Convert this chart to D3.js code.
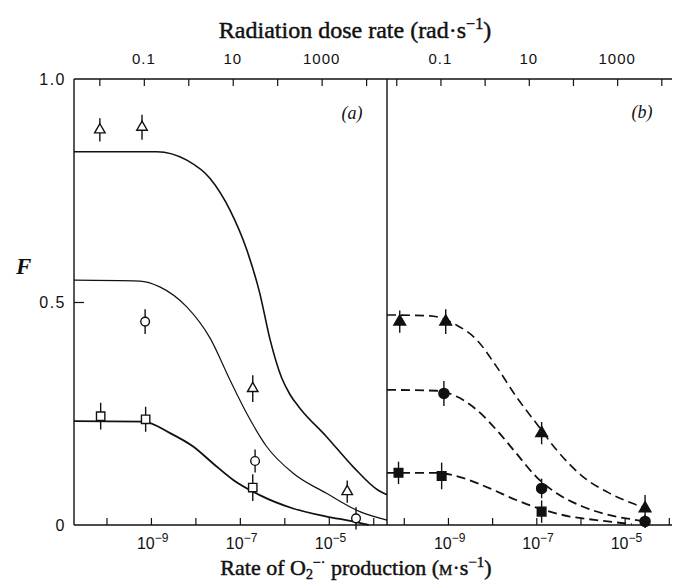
<!DOCTYPE html>
<html><head><meta charset="utf-8">
<script src="https://cdn.jsdelivr.net/npm/d3@7/dist/d3.min.js"></script>
<style>
html,body{margin:0;padding:0;background:#fff;}
svg{display:block;}
.serif{font-family:"Liberation Serif","Times New Roman",serif;}
.tick{font-family:"Liberation Sans",Arial,sans-serif;}
</style></head><body>
<svg id="c" width="675" height="581"></svg>
<script>
// ---------- data ----------
const yTicks = [0, 0.5, 1.0];
const yTickLabels = ["0", "0.5", "1.0"];
const bottomTickValues = [1e-10, 1e-9, 1e-8, 1e-7, 1e-6, 1e-5, 1e-4];
const bottomLabelExps = ["-9", "-7", "-5"];
const bottomLabelValues = [1e-9, 1e-7, 1e-5];
const topTickValues = [0.01, 0.1, 1, 10, 100, 1000, 10000];
const topLabelValues = [0.1, 10, 1000];
const topLabels = ["0.1", "10", "1000"];

// panel (a) fitted curves: [rate M/s, F]
const curveA1 = [[1.86e-11,0.837],[1.35e-9,0.837],[6.4e-9,0.818],[2.14e-8,0.777],[6.0e-8,0.706],[1.43e-7,0.617],[2.8e-7,0.520],[4.8e-7,0.415],[8.7e-7,0.330],[1.35e-6,0.292],[2.24e-6,0.262],[8.9e-6,0.198],[3.5e-5,0.131],[1.29e-4,0.078],[2.04e-4,0.068]];
const curveA2 = [[1.86e-11,0.549],[5.6e-10,0.547],[1.58e-9,0.534],[6.4e-9,0.489],[2.14e-8,0.419],[6.0e-8,0.325],[1.43e-7,0.250],[4.0e-7,0.176],[1.58e-6,0.116],[8.9e-6,0.071],[5.0e-5,0.030],[2.04e-4,0.011]];
const curveA3 = [[1.86e-11,0.233],[6.8e-10,0.232],[2.7e-9,0.206],[8.9e-9,0.176],[2.5e-8,0.138],[7.1e-8,0.101],[2.8e-7,0.067],[1.58e-6,0.037],[8.9e-6,0.019],[3.5e-5,0.008],[7.9e-5,0.0]];
// panel (a) measured points: [rate, F, error]
const triA = [[7.1e-11,0.886,0.026],[6.3e-10,0.892,0.028],[1.95e-7,0.306,0.030],[2.6e-5,0.075,0.025]];
const cirA = [[7.4e-10,0.456,0.028],[2.2e-7,0.1435,0.026],[4.1e-5,0.015,0.025]];
const sqA  = [[7.4e-11,0.244,0.030],[7.6e-10,0.237,0.028],[1.95e-7,0.084,0.030]];

// panel (b) fitted curves
const curveB1 = [[4.17e-11,0.471],[3.9e-10,0.469],[1.58e-9,0.448],[4.5e-9,0.415],[1.26e-8,0.355],[3.5e-8,0.288],[1.0e-7,0.228],[2.9e-7,0.168],[1.15e-6,0.108],[4.6e-6,0.071],[1.86e-5,0.045],[3.7e-5,0.034]];
const curveB2 = [[4.17e-11,0.303],[5.5e-10,0.301],[1.58e-9,0.288],[4.5e-9,0.258],[1.26e-8,0.213],[3.5e-8,0.161],[1.0e-7,0.108],[2.9e-7,0.071],[1.15e-6,0.041],[4.6e-6,0.022],[1.86e-5,0.011],[3.5e-5,0.006]];
const curveB3 = [[4.17e-11,0.117],[5.5e-10,0.117],[2.24e-9,0.105],[8.9e-9,0.082],[3.5e-8,0.056],[1.45e-7,0.034],[5.8e-7,0.019],[2.3e-6,0.011],[1.45e-5,0.002]];
// panel (b) measured points
const triB = [[8.1e-11,0.456,0.025],[8.9e-10,0.456,0.028],[1.32e-7,0.206,0.025],[2.9e-5,0.037,0.030]];
const cirB = [[8.1e-10,0.295,0.028],[1.32e-7,0.082,0.022],[2.9e-5,0.008,0.015]];
const sqB  = [[7.6e-11,0.117,0.025],[7.2e-10,0.110,0.030],[1.32e-7,0.030,0.025]];

// ---------- layout ----------
const svg = d3.select("#c");
const yTop = 79, yBot = 525, xL = 74, xMid = 387, xR = 675;
const y = d3.scaleLinear().domain([0, 1]).range([yBot, yTop]);
const xA = d3.scaleLog().domain([1.86e-11, 2.04e-4]).range([xL, xMid]);
const xB = d3.scaleLog().domain([4.17e-11, 1.38e-4]).range([xMid, xR]);
const tA = d3.scaleLog().domain([2.69e-3, 2.95e4]).range([xL, xMid]);
const tB = d3.scaleLog().domain([6.17e-3, 2.04e4]).range([xMid, xR]);

const ink = "#111";
const g = svg.append("g");

// frame
g.append("line").attr("x1", xL).attr("x2", xR-3).attr("y1", yTop).attr("y2", yTop).attr("stroke", ink).attr("stroke-width", 1.4);
g.append("line").attr("x1", xL).attr("x2", xR-3).attr("y1", yBot).attr("y2", yBot).attr("stroke", ink).attr("stroke-width", 1.6);
g.append("line").attr("x1", xL).attr("x2", xL).attr("y1", yTop).attr("y2", yBot).attr("stroke", ink).attr("stroke-width", 1.4);
g.append("line").attr("x1", xMid).attr("x2", xMid).attr("y1", yTop).attr("y2", yBot).attr("stroke", ink).attr("stroke-width", 1.4);

// axes via d3 (inner ticks)
function drawAxis(axis, tx, ty) {
  const a = g.append("g").attr("transform", `translate(${tx},${ty})`).call(axis);
  a.select(".domain").remove();
  a.selectAll("line").attr("stroke", ink).attr("stroke-width", 1.2);
  a.selectAll("text").remove();
  return a;
}
drawAxis(d3.axisTop(xA).tickValues(bottomTickValues).tickSize(7), 0, yBot);
drawAxis(d3.axisTop(xB).tickValues(bottomTickValues).tickSize(7), 0, yBot);
drawAxis(d3.axisBottom(tA).tickValues(topTickValues).tickSize(7), 0, yTop);
drawAxis(d3.axisBottom(tB).tickValues(topTickValues).tickSize(7), 0, yTop);
drawAxis(d3.axisRight(y).tickValues([0.5]).tickSize(10), xL, 0);

// y tick labels
g.selectAll(".ylab").data(yTicks).enter().append("text")
  .attr("class", "tick").attr("x", 66).attr("y", d => y(d) + 6)
  .attr("text-anchor", "end").attr("font-size", 16).attr("letter-spacing", 1.5).attr("fill", ink)
  .text((d, i) => yTickLabels[i]);

// top labels
[tA, tB].forEach(sc => {
  g.selectAll(null).data(topLabelValues).enter().append("text")
    .attr("class", "tick").attr("x", d => sc(d)).attr("y", 64)
    .attr("text-anchor", "middle").attr("font-size", 15).attr("letter-spacing", 1).attr("fill", ink)
    .text((d, i) => topLabels[i]);
});
// bottom labels 10^n
[xA, xB].forEach(sc => {
  bottomLabelValues.forEach((v, i) => {
    const t = g.append("text").attr("class", "tick").attr("x", sc(v) - 14).attr("y", 549)
      .attr("font-size", 16).attr("fill", ink);
    t.append("tspan").text("10");
    t.append("tspan").attr("dy", -7).attr("font-size", 12).text(bottomLabelExps[i].replace("-", "\u2212"));
  });
});

// titles
const tt = svg.append("text").attr("class", "serif").attr("x", 355).attr("y", 38)
  .attr("text-anchor", "middle").attr("font-size", 24).attr("fill", ink)
  .attr("stroke", ink).attr("stroke-width", 0.45);
tt.append("tspan").text("Radiation dose rate (rad\u00b7s");
tt.append("tspan").attr("dy", -9).attr("font-size", 16).text("\u22121");
tt.append("tspan").attr("dy", 9).text(")");

const bt = svg.append("text").attr("class", "serif").attr("x", 356).attr("y", 575)
  .attr("text-anchor", "middle").attr("font-size", 22).attr("fill", ink)
  .attr("stroke", ink).attr("stroke-width", 0.45);
bt.append("tspan").text("Rate of O");
bt.append("tspan").attr("dy", 4).attr("font-size", 14).text("2");
bt.append("tspan").attr("dy", -12).attr("font-size", 14).text("\u2212\u00b7");
bt.append("tspan").attr("dy", 8).text(" production (");
bt.append("tspan").attr("font-size", 15).text("M");
bt.append("tspan").text("\u00b7s");
bt.append("tspan").attr("dy", -8).attr("font-size", 15).text("\u22121");
bt.append("tspan").attr("dy", 8).text(")");

svg.append("text").attr("class", "serif").attr("x", 16).attr("y", 274)
  .attr("font-size", 23).attr("font-weight", "bold").attr("font-style", "italic").attr("fill", ink).text("F");

svg.append("text").attr("class", "serif").attr("x", 352).attr("y", 119).attr("text-anchor", "middle")
  .attr("font-size", 18).attr("font-style", "italic").attr("fill", ink).text("(a)");
svg.append("text").attr("class", "serif").attr("x", 642).attr("y", 118).attr("text-anchor", "middle")
  .attr("font-size", 18).attr("font-style", "italic").attr("fill", ink).text("(b)");

// curves
function curve(data, sx, width, dash) {
  const line = d3.line().x(d => sx(d[0])).y(d => y(d[1])).curve(d3.curveMonotoneX);
  const p = g.append("path").attr("d", line(data)).attr("fill", "none").attr("stroke", ink).attr("stroke-width", width);
  if (dash) p.attr("stroke-dasharray", dash);
}
curve(curveA1, xA, 1.6);
curve(curveA2, xA, 1.2);
curve(curveA3, xA, 1.8);
curve(curveB1, xB, 1.6, "9,5");
curve(curveB2, xB, 1.8, "9,5");
curve(curveB3, xB, 1.8, "9,5");

// points
function points(data, sx, shape, filled) {
  data.forEach(d => {
    const cx = sx(d[0]), cy = y(d[1]);
    g.append("line").attr("x1", cx).attr("x2", cx).attr("y1", y(d[1] + d[2])).attr("y2", y(d[1] - d[2]))
      .attr("stroke", ink).attr("stroke-width", 1.4);
    const sym = shape === "tri" ? d3.symbolTriangle : shape === "sq" ? d3.symbolSquare : d3.symbolCircle;
    const size = shape === "tri" ? (filled ? 60 : 48) : shape === "sq" ? (filled ? 75 : 70) : (filled ? 80 : 60);
    g.append("path").attr("d", d3.symbol().type(sym).size(size)())
      .attr("transform", `translate(${cx},${cy})`)
      .attr("fill", filled ? ink : "#fff").attr("stroke", ink).attr("stroke-width", 1.4);
  });
}
points(triA, xA, "tri", false);
points(cirA, xA, "cir", false);
points(sqA, xA, "sq", false);
points(triB, xB, "tri", true);
points(cirB, xB, "cir", true);
points(sqB, xB, "sq", true);
</script></body></html>
